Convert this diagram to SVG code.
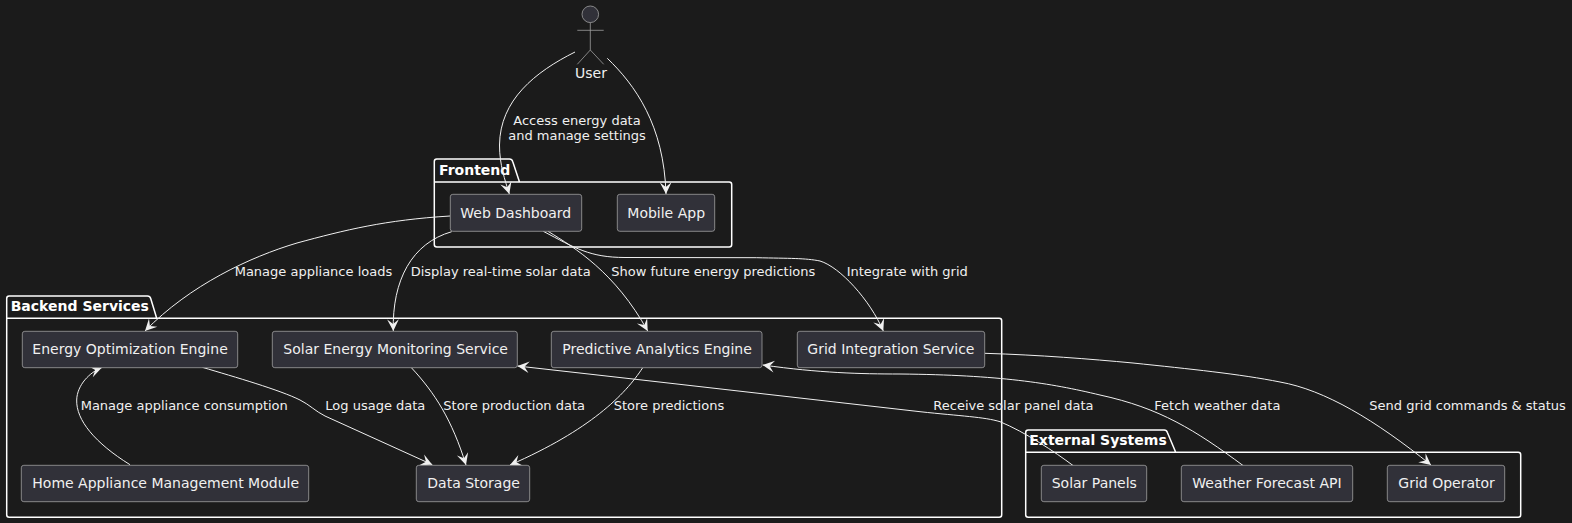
<svg xmlns="http://www.w3.org/2000/svg" width="1572" height="523" viewBox="0 0 1572 523">
<style>
text{font-family:"DejaVu Sans",sans-serif;font-size:14px;fill:#f0f0f0}
.t{font-weight:bold;fill:#fff}
.lb{font-size:13px}
.p{fill:none;stroke:#fff;stroke-width:1.5}
.n{fill:#313139;stroke:#a0a0a0;stroke-width:.8}
.c{fill:none;stroke:#f0f0f0;stroke-width:1;marker-end:url(#a)}
.s{fill:none;stroke:#a0a0a0;stroke-width:.8}
</style>
<defs><marker id="a" markerUnits="userSpaceOnUse" markerWidth="14" markerHeight="14" refX="10" refY="0" viewBox="-1 -6 12 12" orient="auto"><path d="M0 -5L10 0L0 5L4 0Z" fill="#f0f0f0"/></marker></defs>
<rect width="1572" height="523" fill="#1b1b1b"/>
<g id="pkg-frontend"><path class="p" d="M434.300 182V161.500Q434.300 159 436.800 159H509.500Q512 159 512.700 161.500L519.500 182M434.300 182H729.200Q731.700 182 731.700 184.500V244.500Q731.700 247 729.200 247H436.800Q434.300 247 434.300 244.500Z"/><text class="t" x="439" y="175">Frontend</text></g>
<g id="pkg-backend"><path class="p" d="M6.700 318.300V298.500Q6.700 296 9.200 296H147.500Q150 296 150.700 298.500L156.700 318.300M6.700 318.300H999.200Q1001.700 318.300 1001.700 320.800V514.800Q1001.700 517.300 999.200 517.300H9.200Q6.700 517.300 6.700 514.800Z"/><text class="t" x="10.700" y="311">Backend Services</text></g>
<g id="pkg-external"><path class="p" d="M1025.700 452.300V432.500Q1025.700 430 1028.200 430H1164.200Q1166.700 430 1167.400 432.500L1175.700 452.300M1025.700 452.300H1518.200Q1520.700 452.300 1520.700 454.800V514.800Q1520.700 517.300 1518.200 517.300H1028.200Q1025.700 517.300 1025.700 514.800Z"/><text class="t" x="1029.300" y="445">External Systems</text></g>
<g id="connectors">
<path class="c" d="M575 52C535 72 500 100 499.500 145C499.500 165 505 180 509.300 194"/>
<path class="c" d="M607.300 58.300C635 85 664 125 666 194"/>
<path class="c" d="M450 216C385 220 345 230 297 243C250 257 190 285 145 331"/>
<path class="c" d="M451.700 231.700C412 243 392 280 393.300 331"/>
<path class="c" d="M548 231.300C575 248 615 272 647.700 331"/>
<path class="c" d="M543.300 231.300C575 248 590 257.500 625 257.500L756.700 257.700C790 258.500 805 258 820 261C840 267 870 300 883.300 331"/>
<path class="c" d="M130 464.700C95 443 76 420 76.700 400C77 385 90 372 101.700 367.700"/>
<path class="c" d="M202.300 367.300C235 377 280 390 300 400C310 405 315 411 325 416L432.300 464.700"/>
<path class="c" d="M411 367.300C435 393 452 420 466 465"/>
<path class="c" d="M642.700 367.700C625 395 590 430 510 465"/>
<path class="c" d="M1073.300 465.700C1055 452 1025 432 1000 421.700C985 417 960 416 920 411.700L633 379L517.500 366"/>
<path class="c" d="M1243.300 465.700C1195 430 1160 408 1100 395C1050 383 1000 375 900 374C860 374 820 373 762.700 365"/>
<path class="c" d="M984.700 353.300C1040 355 1090 359 1133 363C1190 369 1240 374 1280 382C1325 390 1375 420 1431 465"/>
</g>
<g id="user"><circle class="n" cx="590.300" cy="14.300" r="8.300"/><path class="s" d="M590.300 22.600V50M577.300 30.300H603.700M577.300 64.300L590.300 50L603.700 64.300"/><text x="591" y="78" text-anchor="middle">User</text></g>
<g id="web-dashboard"><rect class="n" x="450.300" y="194.300" width="131.400" height="37" rx="2.500"/><text x="460.300" y="218">Web Dashboard</text></g>
<g id="mobile-app"><rect class="n" x="617.300" y="194.300" width="97.400" height="37" rx="2.500"/><text x="627.300" y="218">Mobile App</text></g>
<g id="energy-optimization"><rect class="n" x="22.300" y="331.300" width="215.400" height="36.400" rx="2.500"/><text x="32.300" y="354.300">Energy Optimization Engine</text></g>
<g id="solar-monitoring"><rect class="n" x="272.300" y="331.300" width="245" height="36.400" rx="2.500"/><text x="283.300" y="354.300">Solar Energy Monitoring Service</text></g>
<g id="predictive-analytics"><rect class="n" x="551.300" y="331.300" width="210.700" height="36.400" rx="2.500"/><text x="562.300" y="354.300">Predictive Analytics Engine</text></g>
<g id="grid-integration"><rect class="n" x="797.300" y="331.300" width="187.400" height="36.400" rx="2.500"/><text x="807.300" y="354.300">Grid Integration Service</text></g>
<g id="home-appliance"><rect class="n" x="21.300" y="465.300" width="287.400" height="36.400" rx="2.500"/><text x="32.300" y="488.300">Home Appliance Management Module</text></g>
<g id="data-storage"><rect class="n" x="416.300" y="465.300" width="113.400" height="36.400" rx="2.500"/><text x="427.300" y="488.300">Data Storage</text></g>
<g id="solar-panels"><rect class="n" x="1041.300" y="465.300" width="105.400" height="36.400" rx="2.500"/><text x="1051.700" y="488.300">Solar Panels</text></g>
<g id="weather-api"><rect class="n" x="1181.300" y="465.300" width="171.400" height="36.400" rx="2.500"/><text x="1192.300" y="488.300">Weather Forecast API</text></g>
<g id="grid-operator"><rect class="n" x="1387.300" y="465.300" width="117.400" height="36.400" rx="2.500"/><text x="1398.300" y="488.300">Grid Operator</text></g>
<g id="labels">
<text class="lb" x="577" y="125" text-anchor="middle">Access energy data</text>
<text class="lb" x="577" y="140" text-anchor="middle">and manage settings</text>
<text class="lb" x="234.700" y="276">Manage appliance loads</text>
<text class="lb" x="410.700" y="276">Display real-time solar data</text>
<text class="lb" x="611.300" y="276">Show future energy predictions</text>
<text class="lb" x="846.700" y="276">Integrate with grid</text>
<text class="lb" x="80.700" y="410">Manage appliance consumption</text>
<text class="lb" x="325.300" y="410">Log usage data</text>
<text class="lb" x="443.300" y="410">Store production data</text>
<text class="lb" x="613.700" y="410">Store predictions</text>
<text class="lb" x="933.300" y="410">Receive solar panel data</text>
<text class="lb" x="1154.300" y="410">Fetch weather data</text>
<text class="lb" x="1369.300" y="410">Send grid commands &amp; status</text>
</g>
</svg>
